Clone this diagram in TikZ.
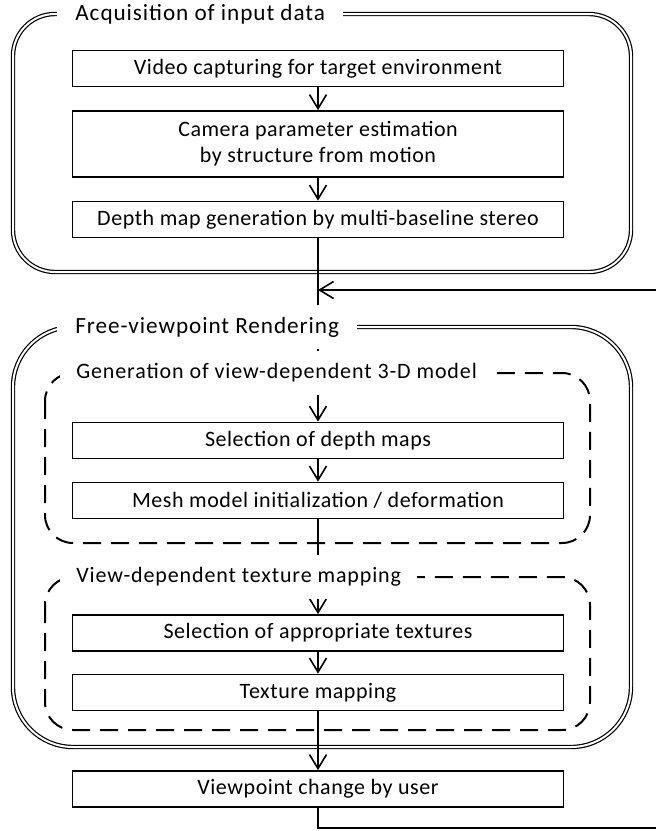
\documentclass[tikz,border=0pt]{standalone}
\usepackage{fontspec}
\setmainfont{Carlito}
\newfontfamily\boxfont{Carlito}[LetterSpace=2.5]
\newfontfamily\titlefont{Carlito}[LetterSpace=4]
\usetikzlibrary{arrows.meta}
\tikzset{
  stage/.style={draw, line width=0.9pt, minimum width=245.5pt, minimum height=18pt,
    inner sep=0pt, align=center, font=\boxfont\fontsize{11}{13}\selectfont},
  frame/.style={draw, double, line width=0.6pt, double distance=1pt},
  subframe/.style={draw, line width=1pt, dash pattern=on 9pt off 5pt, rounded corners=14pt},
  caption/.style={anchor=west, fill=white, inner xsep=8pt, inner ysep=0pt, minimum height=22pt,
    font=\titlefont\fontsize{11}{13}\selectfont},
  maincaption/.style={caption, inner xsep=9pt, font=\titlefont\fontsize{11.6}{13}\selectfont},
  link/.style={-{Straight Barb[length=7pt,width=8.5pt]}, line width=0.8pt},
  plain/.style={line width=0.8pt}
}
\begin{document}
\begin{tikzpicture}[x=0.5pt,y=-0.5pt]
      \useasboundingbox (0,0) rectangle (656,831);
      \draw[frame, rounded corners=21pt] (13,14) rectangle (631,272);
      \draw[frame, rounded corners=30pt] (13,327) rectangle (631,747);
      \draw[subframe] (45,373) rectangle (590,543);
      \draw[subframe] (45,577) rectangle (590,730);
      \path (318,68.5) node[stage] (video) {Video capturing for target environment};
      \path (318,144) node[stage, minimum height=33pt] (camera) {Camera parameter estimation\\by structure from motion};
      \path (318,219.5) node[stage] (depth) {Depth map generation by multi-baseline stereo};
      \path (318,440.5) node[stage] (seldepth) {Selection of depth maps};
      \path (318,500.5) node[stage] (mesh) {Mesh model initialization / deformation};
      \path (318,633) node[stage] (seltex) {Selection of appropriate textures};
      \path (318,692.5) node[stage] (texmap) {Texture mapping};
      \path (318,789) node[stage] (user) {Viewpoint change by user};
      \coordinate (loopB) at (656,828);
      \coordinate (loopT) at (656,290);
      \coordinate (join) at (depth |- loopT);
      \draw[link] (video) -- (camera);
      \draw[link] (camera) -- (depth);
      \draw[link] (depth) -- (seldepth);
      \draw[link] (seldepth) -- (mesh);
      \draw[link] (mesh) -- (seltex);
      \draw[link] (seltex) -- (texmap);
      \draw[link] (texmap) -- (user);
      \draw[plain] (user.south) |- (loopB);
      \draw[link] (loopT) -- (join);
      \path (57,14) node[maincaption] (acqtitle) {Acquisition of input data};
      \path (57,327) node[maincaption] (fvrtitle) {Free-viewpoint Rendering};
      \path (60,373) node[caption] (gentitle) {Generation of view-dependent 3-D model};
      \path (60,577) node[caption] (vdttitle) {View-dependent texture mapping};
     \end{tikzpicture}
\end{document}
